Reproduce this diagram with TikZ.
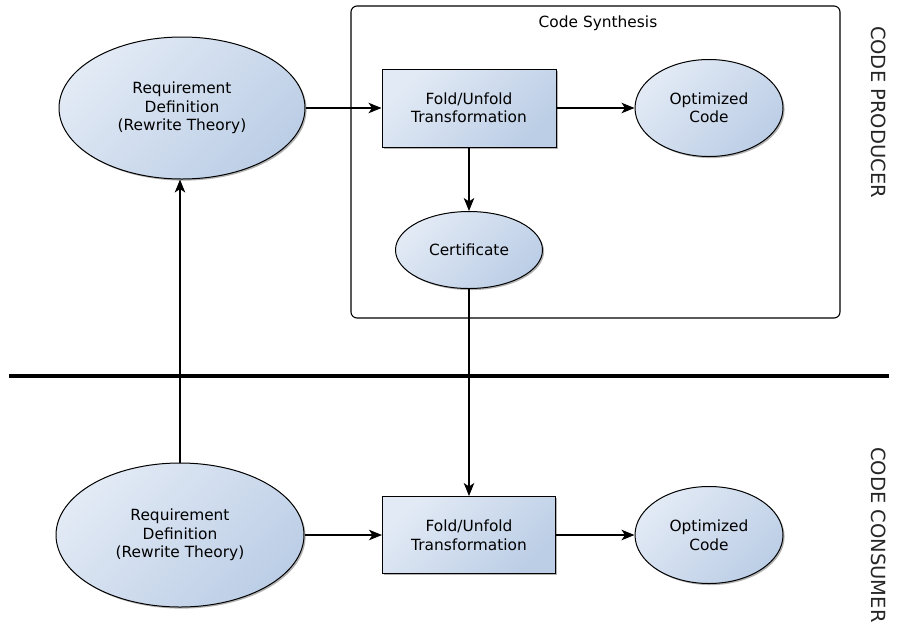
\documentclass[tikz,border=0pt]{standalone}
\usepackage{fontspec}
\setmainfont{DejaVu Sans}
\usetikzlibrary{arrows.meta,shapes.geometric,shadows}

\definecolor{fillA}{HTML}{E2EAF5}
\definecolor{fillB}{HTML}{BCCEE6}

\tikzset{
  base/.style={draw=black, line width=1pt, left color=fillA, right color=fillB,
    shading angle=45, align=center, font=\fontsize{15.4}{18.5}\selectfont,
    drop shadow={shadow xshift=1.6pt, shadow yshift=-1.6pt, opacity=0.3, fill=black}},
  oval/.style={base, ellipse, inner sep=0pt},
  procbox/.style={base, rectangle, inner sep=0pt},
  flow/.style={line width=1.2pt, -{Stealth[length=13pt,width=10.5pt,inset=3.5pt]}},
  sidelabel/.style={rotate=-90, font=\fontsize{19.5}{22}\selectfont, text=black!85}
}

\begin{document}
\begin{tikzpicture}[x=1pt,y=-1pt]
  \useasboundingbox (0,0) rectangle (918,630);

  % code synthesis frame
  \draw[line width=1.1pt, rounded corners=6pt] (351,6) rectangle (840,318);
  \node[font=\fontsize{15.4}{18.5}\selectfont] (synth) at (598,23) {Code Synthesis};

  % producer side
  \node[oval, minimum width=246pt, minimum height=142pt] (reqT) at (182,108)
    {Requirement\\Definition\\(Rewrite Theory)};
  \node[procbox, minimum width=174pt, minimum height=78pt] (foldT) at (469,108)
    {Fold/Unfold\\Transformation};
  \node[oval, minimum width=148pt, minimum height=97pt] (optT) at (709,108)
    {Optimized\\Code};
  \node[oval, minimum width=147pt, minimum height=77pt] (cert) at (469,250)
    {Certificate};

  % separator
  \draw[line width=4pt] (9,376) -- (889,376);

  % consumer side
  \node[oval, minimum width=248pt, minimum height=144pt] (reqB) at (180,535)
    {Requirement\\Definition\\(Rewrite Theory)};
  \node[procbox, minimum width=173pt, minimum height=77pt] (foldB) at (469,535)
    {Fold/Unfold\\Transformation};
  \node[oval, minimum width=148pt, minimum height=97pt] (optB) at (709,535)
    {Optimized\\Code};

  % connectors
  \draw[flow] (reqT) -- (foldT);
  \draw[flow] (foldT) -- (optT);
  \draw[flow] (foldT) -- (cert);
  \draw[flow] (cert) -- (foldB);
  \draw[flow] (reqB) -- (foldB);
  \draw[flow] (foldB) -- (optB);
  \draw[flow] (reqB.north) -- (reqB.north |- reqT.south);

  % side labels
  \node[sidelabel] (prod) at (879,112) {CODE PRODUCER};
  \node[sidelabel] (cons) at (879,535) {CODE CONSUMER};
\end{tikzpicture}
\end{document}
